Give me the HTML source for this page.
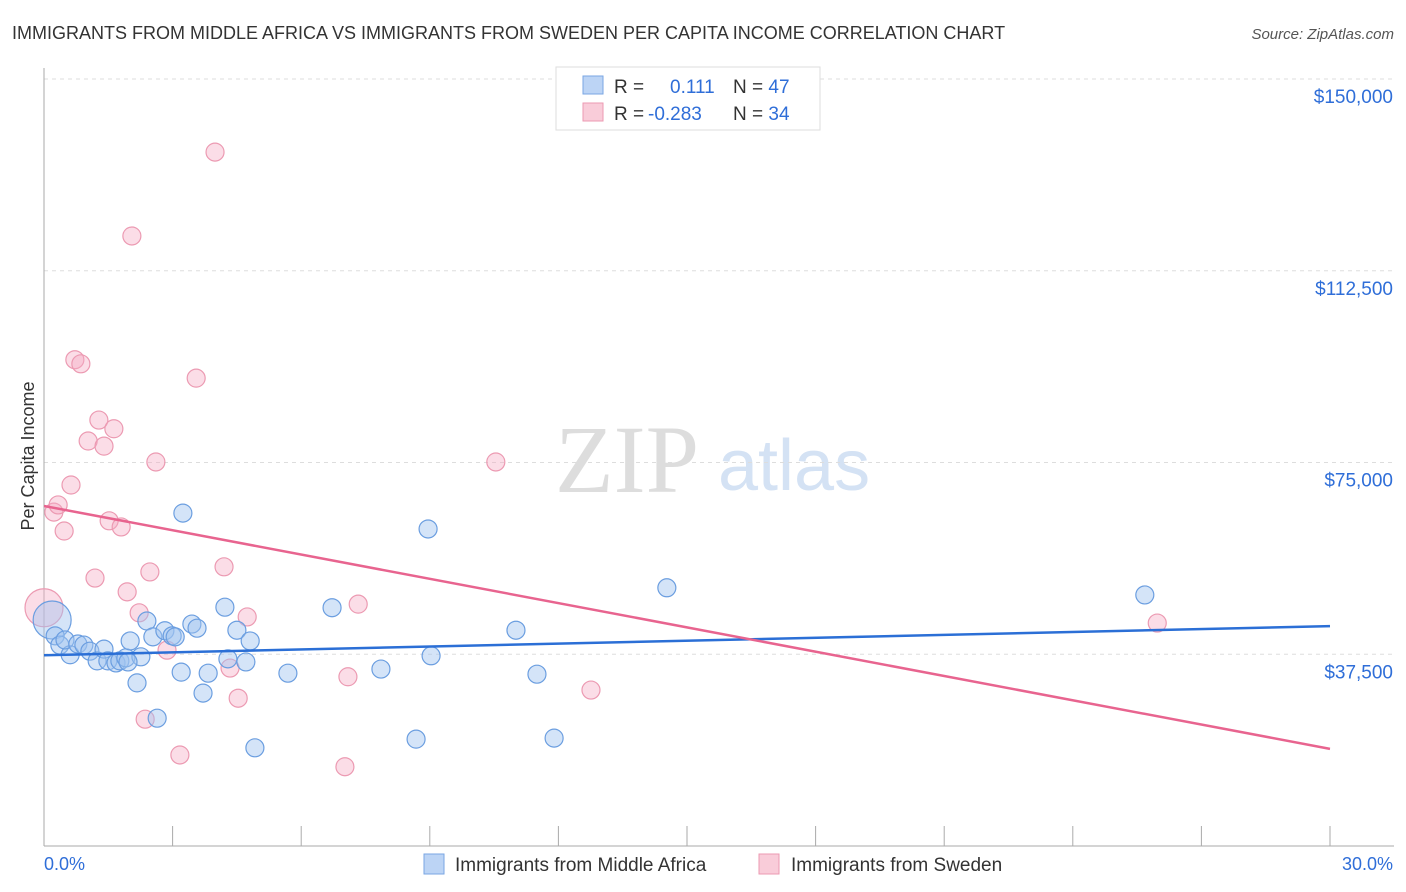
<!DOCTYPE html>
<html><head><meta charset="utf-8"><style>
body{margin:0;background:#fff;font-family:"Liberation Sans",sans-serif}
svg{display:block}
</style></head><body>
<svg id="c" width="1406" height="892">
<text x="12" y="39" font-size="18" fill="#333">IMMIGRANTS FROM MIDDLE AFRICA VS IMMIGRANTS FROM SWEDEN PER CAPITA INCOME CORRELATION CHART</text>
<text x="1394" y="39" font-size="15" fill="#555" text-anchor="end" font-style="italic">Source: ZipAtlas.com</text>
<text x="555" y="492" font-size="96" fill="#ddd" font-family="Liberation Serif,serif">ZIP</text>
<text x="718" y="490" font-size="72" fill="#d4e2f4">atlas</text>
<text transform="translate(34,456) rotate(-90)" font-size="18" fill="#333" text-anchor="middle">Per Capita Income</text>
<g id="grid"></g><g id="pts"></g><g id="lines"></g>
<g>
<rect x="556" y="67" width="264" height="63" fill="#fff" stroke="#ddd"/>
<rect x="583" y="76" width="20" height="18" fill="#bcd4f5" stroke="#7aa6e3"/>
<rect x="583" y="103" width="20" height="18" fill="#f9ccd9" stroke="#ec9ab2"/>
<text x="614" y="93" font-size="19" fill="#333">R = <tspan fill="#2f6ed8" x="670">0.111</tspan><tspan fill="#333" x="733">N = </tspan><tspan fill="#2f6ed8">47</tspan></text>
<text x="614" y="120" font-size="19" fill="#333">R = <tspan fill="#2f6ed8" x="648">-0.283</tspan><tspan fill="#333" x="733">N = </tspan><tspan fill="#2f6ed8">34</tspan></text>
</g>
<g>
<rect x="424" y="854" width="20" height="20" fill="#bcd4f5" stroke="#7aa6e3"/>
<text x="455" y="871" font-size="19" fill="#333">Immigrants from Middle Africa</text>
<rect x="759" y="854" width="20" height="20" fill="#f9ccd9" stroke="#ec9ab2"/>
<text x="791" y="871" font-size="19" fill="#333">Immigrants from Sweden</text>
</g>
<text x="44" y="870" font-size="18" fill="#2f6ed8">0.0%</text>
<text x="1393" y="870" font-size="18" fill="#2f6ed8" text-anchor="end">30.0%</text>
</svg>
<script>
const yTicks=[37500,75000,112500,150000];
const yTickLabels=["$37,500","$75,000","$112,500","$150,000"];
const blueX=[0.19,0.26,0.37,0.61,0.49,0.79,0.93,1.07,1.24,1.40,1.49,1.68,1.77,1.91,2.17,2.26,2.01,2.40,2.54,2.64,2.82,2.99,3.20,3.24,3.45,3.57,3.71,3.83,4.22,4.29,4.50,4.71,4.81,4.92,5.69,6.72,7.86,8.68,8.96,9.03,11.01,11.50,11.90,14.53,25.68,3.06,1.96];
const blueY=[44200,41100,39300,37400,40300,39500,39300,38100,36200,38500,36200,35800,36200,36800,31900,37000,40100,44000,40900,25000,42100,41100,34000,65100,43400,42600,29900,33800,46700,36600,42200,36000,40100,19200,33800,46600,34600,20900,62000,37200,42200,33600,21100,50500,49100,40900,36000];
const pinkX=[0,0.23,0.33,0.47,0.63,0.72,0.86,1.03,1.19,1.28,1.40,1.52,1.63,1.80,1.94,2.05,2.22,2.36,2.47,2.61,2.87,3.17,3.55,3.99,4.20,4.34,4.53,4.74,7.02,7.09,7.33,10.54,12.76,25.97];
const pinkY=[46600,65300,66700,61600,70600,95100,94300,79200,52400,83300,78200,63600,81600,62400,49700,119300,45600,24800,53600,75100,38300,17800,91500,135700,54600,34800,28900,44800,15500,33100,47300,75100,30500,43600];
const blueTrend=[37300,43000];
const pinkTrend=[66500,19000];
const NS="http://www.w3.org/2000/svg";
const xs=v=>44+v/30*1286, ys=v=>846-v/150000*767;
function mk(t,a,p){const e=document.createElementNS(NS,t);for(const k in a)e.setAttribute(k,a[k]);p.appendChild(e);return e;}
const g=document.getElementById('grid');
yTicks.forEach((t,i)=>{
 const l=mk('line',{x1:44,x2:1394,y1:ys(t),y2:ys(t),stroke:'#ddd','stroke-dasharray':'4,4'},g);
 
 
 const tx=mk('text',{x:1393,y:ys(t)+24,'font-size':19,fill:'#2f6ed8','text-anchor':'end'},g);
 tx.textContent=yTickLabels[i];
 
 
});
const ax=mk('line',{x1:44,x2:44,y1:68,y2:846,stroke:'#aaa'},g);


const bx=mk('line',{x1:44,x2:1394,y1:846,y2:846,stroke:'#aaa'},g);


for(let i=1;i<=10;i++){const t=mk('line',{x1:xs(i*3),x2:xs(i*3),y1:826,y2:846,stroke:'#aaa'},g);
 
 }
const p=document.getElementById('pts');
function dots(X,Y,f,s,name){X.forEach((x,i)=>{const r=(x===X[0]&&i<1)?19:9;
 const c=mk('circle',{cx:xs(x),cy:ys(Y[i]),r:r,fill:f,stroke:s,'stroke-width':1.2},p);
 
 });}
dots(pinkX,pinkY,'rgba(246,170,195,0.4)','#ec9ab2','point-sweden');
dots(blueX,blueY,'rgba(160,196,240,0.45)','#6b9ee0','point-middle-africa');
const L=document.getElementById('lines');
const b=mk('line',{x1:xs(0),x2:xs(30),y1:ys(blueTrend[0]),y2:ys(blueTrend[1]),stroke:'#2b6fd6','stroke-width':2.5},L);


const k=mk('line',{x1:xs(0),x2:xs(30),y1:ys(pinkTrend[0]),y2:ys(pinkTrend[1]),stroke:'#e8648f','stroke-width':2.5},L);


</script>
</body></html>
